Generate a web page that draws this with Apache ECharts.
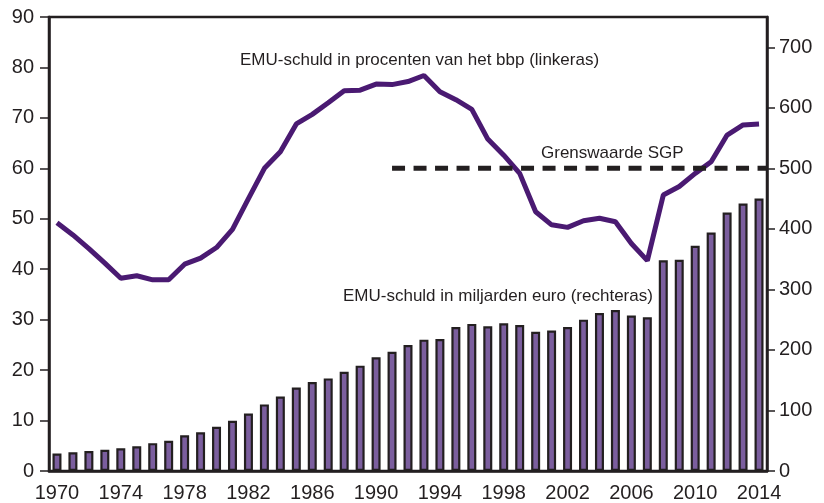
<!DOCTYPE html>
<html>
<head>
<meta charset="utf-8">
<script src="https://cdn.jsdelivr.net/npm/echarts@6/dist/echarts.min.js"></script>
<style>
  html, body { margin: 0; padding: 0; background: #fff; }
  #main { width: 824px; height: 503px; }
</style>
</head>
<body>
<div id="main"></div>
<script>
var years = ['1970','1971','1972','1973','1974','1975','1976','1977','1978','1979',
  '1980','1981','1982','1983','1984','1985','1986','1987','1988','1989',
  '1990','1991','1992','1993','1994','1995','1996','1997','1998','1999',
  '2000','2001','2002','2003','2004','2005','2006','2007','2008','2009',
  '2010','2011','2012','2013','2014'];

// EMU-schuld in % bbp (linkeras)
var debtPct = [49.2, 46.8, 44.1, 41.2, 38.2, 38.7, 37.9, 37.9, 41.0, 42.2,
  44.3, 47.9, 54.0, 60.0, 63.3, 68.8, 70.7, 73.0, 75.4, 75.5,
  76.7, 76.6, 77.2, 78.4, 75.2, 73.6, 71.7, 65.8, 62.6, 59.0,
  51.4, 48.8, 48.3, 49.6, 50.1, 49.4, 45.1, 41.7, 54.7, 56.4,
  59.0, 61.3, 66.6, 68.6, 68.8];

// EMU-schuld in miljarden euro (rechteras)
var debtBn = [29, 31, 33, 35, 37.5, 41, 46, 50, 59, 64,
  73, 83, 95, 110, 123, 138, 147, 153, 164, 174,
  188, 197, 208, 217, 218, 238, 243, 239, 244, 241,
  230, 232, 238, 250, 261, 266, 257, 254, 348, 349,
  372, 394, 427, 442, 450];

// grenswaarde SGP: 60% vanaf 1991
var sgpLine = [[21.5, 60], [45, 60]];

var leftTicks = [0, 10, 20, 30, 40, 50, 60, 70, 80, 90];
var rightTicks = [0, 100, 200, 300, 400, 500, 600, 700];

var ink = '#231f20';
var font = "'Liberation Sans', Arial, sans-serif";

var chart = echarts.init(document.getElementById('main'));

var option = {
  animation: false,
  grid: {
    left: 49, right: 57, top: 17, bottom: 32,
    show: true, borderColor: ink, borderWidth: 2.5
  },
  xAxis: [
    {
      type: 'category',
      data: years,
      boundaryGap: true,
      axisLine: { lineStyle: { color: ink, width: 2.5 } },
      axisTick: { interval: 0, length: 9, lineStyle: { color: ink, width: 1.5 } },
      axisLabel: { interval: 3, margin: 12, color: ink, fontSize: 20, fontFamily: font }
    },
    { type: 'value', min: 0, max: 45, show: false }
  ],
  yAxis: [
    {
      type: 'value', min: 0, max: 90, interval: 10,
      splitLine: { show: false },
      axisLine: { show: true, lineStyle: { color: ink, width: 2.5 } },
      axisTick: { show: true, length: 9, lineStyle: { color: ink, width: 1.5 } },
      axisLabel: { margin: 15, color: ink, fontSize: 20, fontFamily: font,
        customValues: leftTicks }
    },
    {
      type: 'value', min: 0, max: 750, interval: 50, position: 'right',
      splitLine: { show: false },
      axisLine: { show: true, lineStyle: { color: ink, width: 2.5 } },
      axisTick: { show: true, length: 8, customValues: rightTicks,
        lineStyle: { color: ink, width: 1.5 } },
      axisLabel: { margin: 12, color: ink, fontSize: 20, fontFamily: font,
        customValues: rightTicks }
    }
  ],
  series: [
    {
      name: 'EMU-schuld in miljarden euro',
      type: 'bar',
      yAxisIndex: 1,
      data: debtBn,
      barWidth: 9,
      itemStyle: { color: '#7b5e9e', borderColor: ink, borderWidth: 2.2 },
      z: 2
    },
    {
      name: 'EMU-schuld in procenten van het bbp',
      type: 'line',
      yAxisIndex: 0,
      data: debtPct,
      showSymbol: false,
      lineStyle: { color: '#4a1a72', width: 5 },
      z: 3
    },
    {
      name: 'Grenswaarde SGP',
      type: 'line',
      xAxisIndex: 1,
      yAxisIndex: 0,
      data: sgpLine,
      showSymbol: false,
      lineStyle: { color: ink, width: 5, type: [13, 8.5], cap: 'butt' },
      z: 4
    }
  ],
  graphic: [
    { type: 'text', left: 240, top: 52,
      style: { text: 'EMU-schuld in procenten van het bbp (linkeras)', fill: ink,
        font: '17px ' + font } },
    { type: 'text', left: 541, top: 145,
      style: { text: 'Grenswaarde SGP', fill: ink, font: '17px ' + font } },
    { type: 'text', left: 343, top: 288,
      style: { text: 'EMU-schuld in miljarden euro (rechteras)', fill: ink,
        font: '17px ' + font } }
  ]
};

chart.setOption(option);
</script>
</body>
</html>
